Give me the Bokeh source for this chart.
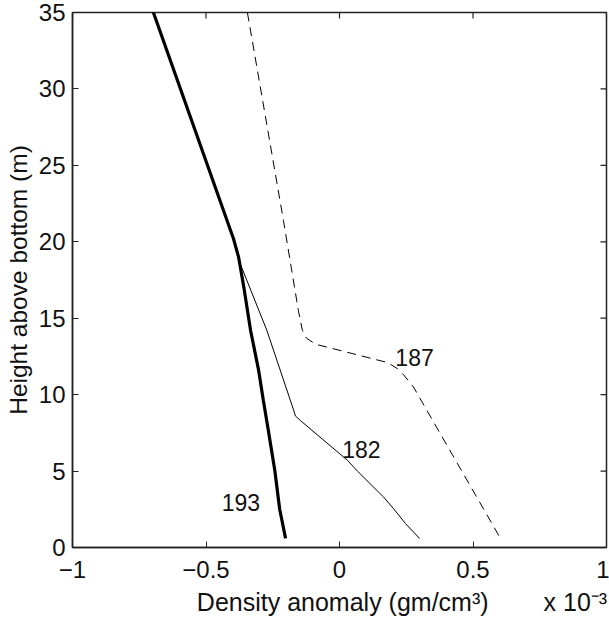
import math
from bokeh.plotting import figure
from bokeh.models import FixedTicker, Label, Range1d
from bokeh.embed import file_html
from bokeh.resources import INLINE

# Density anomaly (units of 1e-3 gm/cm^3) vs height above bottom (m)
x193 = [-0.697, -0.397, -0.378, -0.358, -0.333, -0.303, -0.285, -0.266, -0.242, -0.224, -0.202]
y193 = [35.0, 20.2, 19.0, 17.0, 14.2, 11.6, 9.6, 7.6, 5.0, 2.5, 0.6]

x182 = [-0.697, -0.397, -0.375, -0.272, -0.172, -0.165, -0.146, 0.030, 0.067, 0.165, 0.202, 0.247, 0.300]
y182 = [35.0, 20.2, 18.7, 14.2, 9.0, 8.6, 8.3, 5.7, 5.0, 3.3, 2.55, 1.57, 0.59]

x187 = [-0.345, -0.210, -0.154, -0.139, -0.124, -0.090, 0.180, 0.217, 0.240, 0.277, 0.603]
y187 = [35.0, 21.4, 15.5, 14.2, 13.7, 13.3, 12.1, 11.7, 11.3, 10.5, 0.59]

curve_names = ["193", "182", "187"]
name_x = [-0.369, 0.082, 0.281]
name_y = [2.94, 6.4, 12.4]

xticks = [-1, -0.5, 0, 0.5, 1]
xtick_labels = ["\u22121", "\u22120.5", "0", "0.5", "1"]
yticks = [0, 5, 10, 15, 20, 25, 30, 35]
ytick_labels = ["0", "5", "10", "15", "20", "25", "30", "35"]

x_title = "Density anomaly (gm/cm\u00b3)"
x_scale_note = "x 10\u207b\u00b3"
y_title = "Height above bottom (m)"

FONT = "Liberation Sans"
TICK_FS = "24px"
INK = "#111111"
AXIS = "#222222"

X0, X1 = xticks[0], xticks[-1]
Y0, Y1 = yticks[0], yticks[-1]

p = figure(width=609, height=621, x_range=Range1d(X0, X1), y_range=Range1d(Y0, Y1),
           output_backend="svg", toolbar_location=None,
           min_border_left=72, min_border_right=3, min_border_top=12, min_border_bottom=74)
p.grid.visible = False
p.outline_line_color = AXIS
p.outline_line_width = 1.5
p.background_fill_color = "white"
p.border_fill_color = "white"

p.line(x182, y182, line_color="black", line_width=1)
p.line(x187, y187, line_color="black", line_width=1, line_dash="9 6")
p.line(x193, y193, line_color="black", line_width=3.2)

# inward ticks on the top and right edges of the box
p.ray(x=xticks, y=[Y1] * len(xticks), length=6, length_units="screen", angle=-math.pi / 2,
      line_color=AXIS, line_width=1.2)
p.ray(x=[X1] * len(yticks), y=yticks, length=6, length_units="screen", angle=math.pi,
      line_color=AXIS, line_width=1.2)

for name, nx, ny in zip(curve_names, name_x, name_y):
    p.add_layout(Label(x=nx, y=ny, text=name, text_align="center", text_baseline="middle",
                       text_font=FONT, text_font_size="23px", text_color=INK))

def style(ax, ticks, labels):
    ax.ticker = FixedTicker(ticks=ticks)
    ax.major_label_overrides = {t: l for t, l in zip(ticks, labels)}
    ax.minor_tick_line_color = None
    ax.major_tick_in = 6
    ax.major_tick_out = 0
    ax.major_tick_line_color = AXIS
    ax.axis_line_color = AXIS
    ax.axis_line_width = 1.5
    ax.major_label_text_font = FONT
    ax.major_label_text_color = INK
    ax.major_label_text_font_size = TICK_FS
    ax.axis_label_text_font = FONT
    ax.axis_label_text_font_style = "normal"
    ax.axis_label_text_color = INK

EM = "\u2003"
EN = "\u2002"
THIN = "\u2009"

xa = p.xaxis[0]
style(xa, xticks, xtick_labels)
xa.major_label_standoff = 13
# centred title, with the scale note pushed to the right end of the axis
xa.axis_label = EM * 4 + EN * 2 + x_title + EM * 2 + THIN + x_scale_note
xa.axis_label_text_font_size = "25px"
xa.axis_label_standoff = 7

ya = p.yaxis[0]
style(ya, yticks, ytick_labels)
ya.major_label_standoff = 7
ya.axis_label = y_title
ya.axis_label_text_font_size = "24.5px"
ya.axis_label_standoff = 4

open("out.html", "w").write(file_html(p, INLINE))
